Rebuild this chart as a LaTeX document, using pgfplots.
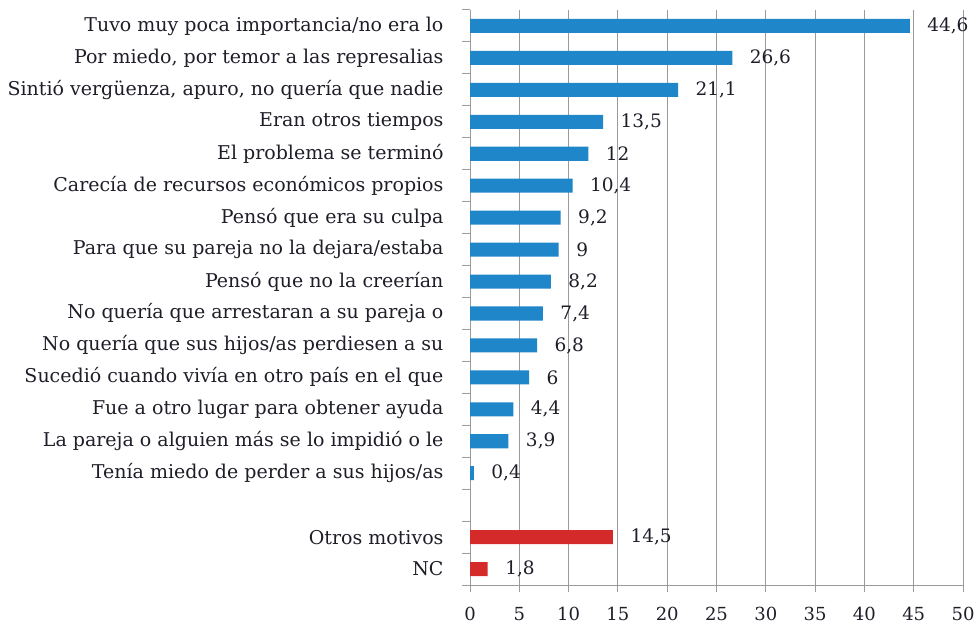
\documentclass[border=0pt]{standalone}
\usepackage{fontspec}
\setmainfont{DejaVu Serif}
\usepackage{pgfplots}
\pgfplotsset{compat=1.18}
\definecolor{barblue}{RGB}{31,134,202}
\definecolor{barred}{RGB}{212,42,42}
\definecolor{gridgray}{RGB}{155,155,155}
\definecolor{txt}{RGB}{30,30,40}
\begin{document}
\begin{tikzpicture}
\path[use as bounding box] (0,0) rectangle (979pt,628pt);
\begin{axis}[
  at={(470pt,43pt)}, anchor=south west,
  scale only axis, width=493pt, height=575pt,
  xmin=0, xmax=50, ymin=-0.5, ymax=17.5, y dir=reverse,
  axis x line*=bottom, axis y line*=left,
  axis line style={gridgray, line width=1pt},
  xtick={0,5,...,50},
  xmajorgrids, grid style={gridgray, line width=1pt},
  ytick={0,...,17},
  yticklabels={Tuvo muy poca importancia/no era lo,
    {Por miedo, por temor a las represalias},
    {Sintió vergüenza, apuro, no quería que nadie},
    Eran otros tiempos,
    El problema se terminó,
    Carecía de recursos económicos propios,
    Pensó que era su culpa,
    Para que su pareja no la dejara/estaba,
    Pensó que no la creerían,
    No quería que arrestaran a su pareja o,
    No quería que sus hijos/as perdiesen a su,
    Sucedió cuando vivía en otro país en el que,
    Fue a otro lugar para obtener ayuda,
    La pareja o alguien más se lo impidió o le,
    Tenía miedo de perder a sus hijos/as,
    {},
    Otros motivos,
    NC},
  major y tick style={draw=none},
  minor ytick={-0.5,0.5,...,17.5},
  minor tick length=8pt,
  major tick length=7pt,
  tick align=outside,
  tick style={gridgray, line width=1pt},
  xticklabel style={font=\fontsize{18}{20}\selectfont, text=txt, yshift=-12pt},
  yticklabel style={font=\fontsize{19}{21}\selectfont, text=txt, xshift=-16pt},
  /pgf/number format/assume math mode=true,
  /pgf/number format/use comma,
  clip=false,
  point meta=x,
  nodes near coords,
  every node near coord/.append style={font=\fontsize{18.5}{20}\selectfont, text=txt, anchor=west, xshift=14pt},
]
\addplot[xbar, bar shift=0pt, bar width=0.44, fill=barblue, draw=none] coordinates {
  (44.6,0) (26.6,1) (21.1,2) (13.5,3) (12,4) (10.4,5) (9.2,6) (9,7)
  (8.2,8) (7.4,9) (6.8,10) (6,11) (4.4,12) (3.9,13) (0.4,14)
};
\addplot[xbar, bar shift=0pt, bar width=0.44, fill=barred, draw=none] coordinates {
  (14.5,16) (1.8,17)
};
\end{axis}
\end{tikzpicture}
\end{document}
